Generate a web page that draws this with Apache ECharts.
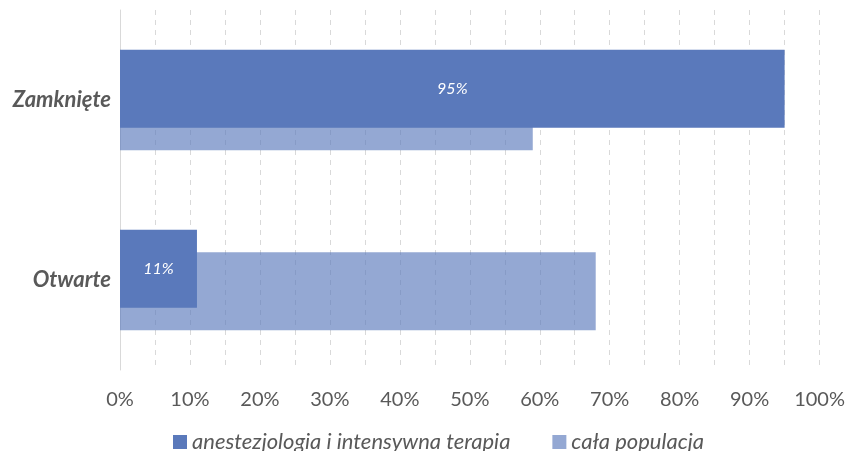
<!DOCTYPE html>
<html>
<head>
<meta charset="utf-8">
<script src="https://cdn.jsdelivr.net/npm/echarts@6/dist/echarts.min.js"></script>
<style>
  html, body { margin: 0; padding: 0; background: #fff; }
  #chart { width: 848px; height: 451px; }
</style>
</head>
<body>
<div id="chart"></div>
<script>
const categories = ['Zamknięte', 'Otwarte'];
const seriesNames = ['anestezjologia i intensywna terapia', 'cała populacja'];
const anestezjologia = [95, 11];
const populacja = [59, 68];

const chart = echarts.init(document.getElementById('chart'));
const font = 'Lato';

const option = {
  animation: false,
  textStyle: { fontFamily: font },
  grid: { left: 120, right: 28, top: 10, bottom: 81 },
  legend: {
    bottom: -7,
    left: 168,
    icon: 'rect',
    itemWidth: 14,
    itemHeight: 14,
    itemGap: 42,
    textStyle: { fontFamily: font, fontSize: 22, fontStyle: 'italic', color: '#595959' },
    data: seriesNames
  },
  xAxis: {
    type: 'value',
    min: 0,
    max: 100,
    interval: 5,
    axisLine: { show: false },
    axisTick: { show: false },
    splitLine: { lineStyle: { color: '#d9d9d9', type: [5, 5] } },
    axisLabel: {
      fontFamily: font, fontSize: 20, color: '#595959', margin: 20,
      formatter: v => (v % 10 === 0 ? v + '%' : '')
    }
  },
  yAxis: {
    type: 'category',
    inverse: true,
    data: categories,
    axisLine: { lineStyle: { color: '#d9d9d9' } },
    axisTick: { show: false },
    axisLabel: {
      fontFamily: font, fontSize: 22, fontWeight: 'bold', fontStyle: 'italic',
      color: '#595959', margin: 9
    }
  },
  series: [
    {
      name: seriesNames[0],
      type: 'bar',
      data: anestezjologia,
      barWidth: 78,
      barGap: '-71%',
      z: 3,
      itemStyle: { color: '#5a79bb' },
      label: {
        show: true, position: 'inside', formatter: '{c}%',
        fontFamily: font, fontSize: 16, fontStyle: 'italic', color: '#fff'
      }
    },
    {
      name: seriesNames[1],
      type: 'bar',
      data: populacja,
      barWidth: 78,
      barGap: '-71%',
      z: 2,
      itemStyle: { color: 'rgba(90,121,187,0.65)' }
    }
  ]
};

chart.setOption(option);
</script>
</body>
</html>
